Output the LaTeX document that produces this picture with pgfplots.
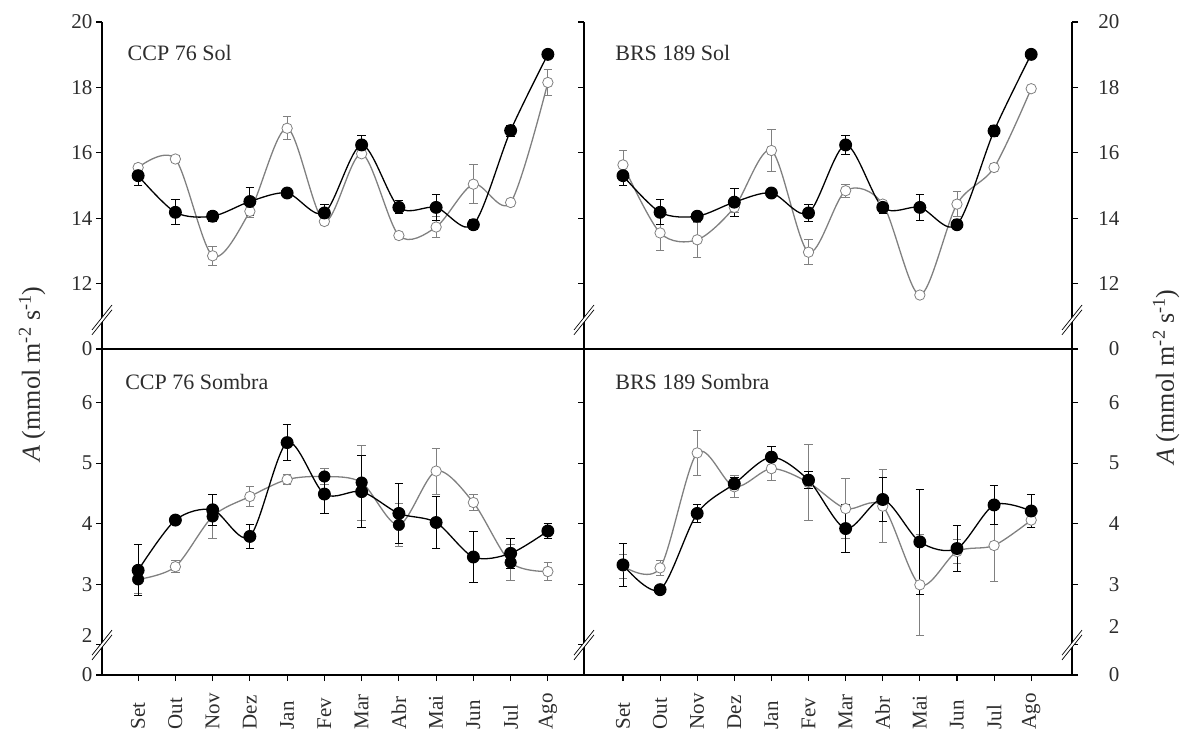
\documentclass[border=0pt]{standalone}
\usepackage{pgfplots}
\usepackage{pgfplotstable}
\usepackage{fontspec}
\setmainfont{Liberation Serif}
\pgfplotsset{compat=1.18}

\pgfplotstableread{
x y e
0 15.30 0.29
1 14.18 0.38
2 14.06 0.15
3 14.51 0.43
4 14.77 0.10
5 14.16 0.25
6 16.24 0.30
7 14.33 0.20
8 14.33 0.40
9 13.80 0.15
10 16.68 0.17
11 19.01 0.13
}\tlblack
\pgfplotstableread{
x y e
0 15.55 0.10
1 15.81 0.10
2 12.85 0.29
3 14.21 0.20
4 16.75 0.35
5 13.90 0.10
6 15.97 0.08
7 13.47 0.10
8 13.73 0.32
9 15.04 0.60
10 14.48 0.05
11 18.15 0.39
}\tlgray
\pgfplotstableread{
x y e
0 15.30 0.29
1 14.18 0.38
2 14.06 0.15
3 14.49 0.43
4 14.77 0.10
5 14.16 0.25
6 16.24 0.30
7 14.33 0.20
8 14.33 0.40
9 13.80 0.15
10 16.67 0.17
11 19.01 0.13
}\trblack
\pgfplotstableread{
x y e
0 15.63 0.43
1 13.55 0.55
2 13.34 0.53
3 14.33 0.15
4 16.07 0.65
5 12.96 0.38
6 14.84 0.20
7 14.43 0.10
8 11.65 0.00
9 14.43 0.38
10 15.55 0.12
11 17.96 0.00
}\trgray
\pgfplotstableread{
x y e
0 3.23 0.42
1 4.06 0.05
2 4.23 0.26
3 3.79 0.20
4 5.34 0.30
5 4.49 0.32
6 4.53 0.60
7 4.17 0.50
8 4.02 0.43
9 3.45 0.42
10 3.51 0.25
11 3.88 0.13
}\blblack
\pgfplotstableread{
x y e
0 3.08 0.23
1 3.29 0.10
2 4.12 0.37
3 4.45 0.16
4 4.73 0.08
5 4.78 0.13
6 4.68 0.62
7 3.98 0.35
8 4.87 0.38
9 4.35 0.13
10 3.36 0.30
11 3.21 0.15
}\blgray
\pgfplotstableread{
x y
0 3.08
2 4.12
5 4.78
6 4.68
7 3.98
10 3.36
}\blgrayfilled
\pgfplotstableread{
x y e
0 3.32 0.35
1 2.91 0.05
2 4.17 0.15
3 4.66 0.10
4 5.10 0.18
5 4.72 0.14
6 3.92 0.40
7 4.40 0.37
8 3.70 0.87
9 3.59 0.38
10 4.31 0.33
11 4.21 0.28
}\brblack
\pgfplotstableread{
x y e
0 3.30 0.20
1 3.27 0.13
2 5.17 0.37
3 4.61 0.18
4 4.91 0.20
5 4.68 0.63
6 4.25 0.49
7 4.29 0.60
8 2.99 0.84
9 3.54 0.20
10 3.64 0.60
11 4.06 0.13
}\brgray

\definecolor{txt}{RGB}{45,45,45}
\definecolor{gline}{RGB}{128,128,128}

\newcommand\brk[2]{%
  \draw[white, line width=2.8bp] (rel axis cs:#1,#2) ++(-8bp,-10bp) -- ++(16bp,20bp);
  \draw[black, line width=0.7bp] (rel axis cs:#1,#2) ++(-10bp,-10.1bp) -- ++(20bp,25bp);
  \draw[black, line width=0.7bp] (rel axis cs:#1,#2) ++(-10bp,-14.9bp) -- ++(20bp,25bp);
}

\pgfplotsset{
  panel/.style={
    scale only axis, clip=false,
    axis line style={line width=1.2bp, black},
    every tick/.style={line width=1.1bp, black},
    major tick length=6bp,
    tick align=outside,
    ticklabel style={font=\fontsize{21bp}{24bp}\selectfont, text=txt},
    xmin=-0.97, xmax=11.97,
  },
  blackser/.style={
    black, line width=1.3bp, smooth, tension=0.5,
    mark=*, mark size=5.8bp, mark options={fill=black, solid},
    error bars/.cd, y dir=both, y explicit,
    error bar style={line width=0.9bp, black},
    error mark options={rotate=90, mark size=4.2bp, line width=0.9bp, black},
  },
  grayser/.style={
    gline, line width=1.3bp, smooth, tension=0.5,
    mark=*, mark size=5.2bp, mark options={fill=white, draw=gline, line width=0.8bp, solid},
    error bars/.cd, y dir=both, y explicit,
    error bar style={line width=0.9bp, gline},
    error mark options={rotate=90, mark size=4.2bp, line width=0.9bp, gline},
  },
  toppanel/.style={
    panel, height=327bp,
    axis x line*=bottom, axis y line*=box,
    xtick=\empty,
    ymin=10, ymax=20,
    ytick={10,12,14,16,18,20},
    yticklabels={0,12,14,16,18,20},
  },
  botpanel/.style={
    panel, height=326bp,
    xtick={0,...,11},
    xticklabels={Set,Out,Nov,Dez,Jan,Fev,Mar,Abr,Mai,Jun,Jul,Ago},
    xtick pos=bottom,
    xticklabel style={rotate=90, anchor=west},
    xticklabel shift=52bp,
    ymin=1.5, ymax=6.887,
    ytick={1.5,2,3,4,5,6},
  },
}

\begin{document}
\begin{tikzpicture}[x=1bp,y=1bp]
\useasboundingbox (0,0) rectangle (1183bp,733bp);

% top left
\begin{axis}[toppanel, at={(102bp,384bp)}, anchor=south west, width=482bp,
  ytick pos=left]
  \addplot+[grayser] table[x=x,y=y,y error=e] {\tlgray};
  \addplot+[blackser] table[x=x,y=y,y error=e] {\tlblack};
  \node[anchor=west, font=\fontsize{22bp}{26bp}\selectfont, text=txt] at (rel axis cs:0.046,0.905) {CCP 76 Sol};
  \brk{0}{0.089}
\end{axis}

% bottom left
\begin{axis}[botpanel, at={(102bp,58bp)}, anchor=south west, width=482bp,
  ytick pos=left,
  yticklabels={0,\raisebox{18bp}{2},3,4,5,6}]
  \addplot+[grayser] table[x=x,y=y,y error=e] {\blgray};
  \addplot+[only marks, mark=*, mark size=5.8bp, mark options={fill=black, draw=black}, black] table[x=x,y=y] {\blgrayfilled};
  \addplot+[blackser] table[x=x,y=y,y error=e] {\blblack};
  \node[anchor=west, font=\fontsize{22bp}{26bp}\selectfont, text=txt] at (rel axis cs:0.041,0.90) {CCP 76 Sombra};
  \brk{0}{0.092}
\end{axis}

% top right
\begin{axis}[toppanel, at={(584bp,384bp)}, anchor=south west, width=488bp,
  xmin=-1.05, xmax=12.1,
  ytick pos=both, yticklabel pos=right,
  yticklabel style={anchor=east, xshift=45bp}]
  \addplot+[grayser] table[x=x,y=y,y error=e] {\trgray};
  \addplot+[blackser] table[x=x,y=y,y error=e] {\trblack};
  \node[anchor=west, font=\fontsize{22bp}{26bp}\selectfont, text=txt] at (rel axis cs:0.057,0.905) {BRS 189 Sol};
  \brk{0}{0.089}
  \brk{1}{0.089}
\end{axis}

% bottom right
\begin{axis}[botpanel, at={(584bp,58bp)}, anchor=south west, width=488bp,
  xmin=-1.05, xmax=12.1,
  ytick pos=both, yticklabel pos=right,
  yticklabel style={anchor=east, xshift=45bp},
  yticklabels={0,\raisebox{36bp}{2},3,4,5,6}]
  \addplot+[grayser] table[x=x,y=y,y error=e] {\brgray};
  \addplot+[blackser] table[x=x,y=y,y error=e] {\brblack};
  \node[anchor=west, font=\fontsize{22bp}{26bp}\selectfont, text=txt] at (rel axis cs:0.057,0.90) {BRS 189 Sombra};
  \brk{0}{0.092}
  \brk{1}{0.092}
\end{axis}

\node[rotate=90, font=\fontsize{26bp}{30bp}\selectfont, text=txt] at (32bp,359bp) {\textit{A} (mmol m\textsuperscript{-2} s\textsuperscript{-1})};
\node[rotate=90, font=\fontsize{26bp}{30bp}\selectfont, text=txt] at (1166bp,356bp) {\textit{A} (mmol m\textsuperscript{-2} s\textsuperscript{-1})};
\end{tikzpicture}
\end{document}
